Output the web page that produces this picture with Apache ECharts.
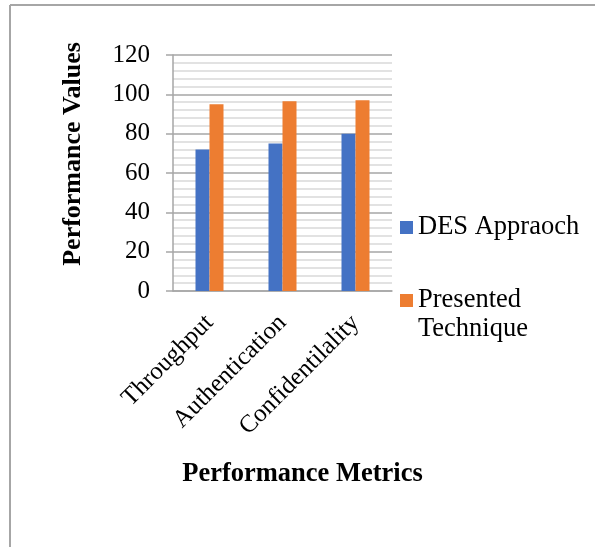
<!DOCTYPE html>
<html>
<head>
<meta charset="utf-8">
<script src="https://cdn.jsdelivr.net/npm/echarts@6/dist/echarts.min.js"></script>
<style>html,body{margin:0;padding:0;background:#fff;}#c{width:595px;height:547px;}</style>
</head>
<body>
<div id="c"></div>
<script>
var categories = ['Throughput', 'Authentication', 'Confidentilality'];
var desValues = [72, 75, 80];
var presentedValues = [95, 96.5, 97];
var seriesNames = ['DES Appraoch', 'Presented Technique'];
var yTicks = [0, 20, 40, 60, 80, 100, 120];

var FONT = '"Liberation Serif", "Times New Roman", serif';
var chart = echarts.init(document.getElementById('c'), null, {renderer: 'canvas'});
chart.setOption({
  animation: false,
  backgroundColor: '#fff',
  graphic: [
    {type: 'line', shape: {x1: 10, y1: 5, x2: 595, y2: 5}, style: {stroke: '#a6a6a6', lineWidth: 2}},
    {type: 'line', shape: {x1: 10, y1: 5, x2: 10, y2: 547}, style: {stroke: '#a6a6a6', lineWidth: 2}}
  ],
  grid: {left: 173, top: 55, width: 219, height: 236, containLabel: false},
  legend: [
    {
      data: [seriesNames[0]], orient: 'vertical', left: 400, top: 213, padding: 0,
      itemWidth: 13, itemHeight: 13, itemGap: 0, icon: 'rect',
      textStyle: {fontFamily: FONT, fontSize: 26.5, color: '#000', lineHeight: 29}
    },
    {
      data: [seriesNames[1]], orient: 'vertical', left: 400, top: 257, padding: 0,
      itemWidth: 13, itemHeight: 13, itemGap: 0, icon: 'rect',
      formatter: function (n) {
        return '\u00a0\n' + n.split(' ').join('\n');
      },
      textStyle: {fontFamily: FONT, fontSize: 26.5, color: '#000', lineHeight: 29}
    }
  ],
  xAxis: {
    type: 'category',
    data: categories,
    name: 'Performance Metrics',
    nameLocation: 'middle',
    nameGap: 170,
    nameTextStyle: {fontFamily: FONT, fontSize: 26.5, fontWeight: 'bold', color: '#000', padding: [0, 0, 0, 40]},
    axisLine: {lineStyle: {color: '#a6a6a6', width: 1.5}},
    axisTick: {show: false},
    axisLabel: {rotate: 45, fontFamily: FONT, fontSize: 25, color: '#000', margin: 28, interval: 0}
  },
  yAxis: {
    type: 'value',
    min: yTicks[0], max: yTicks[yTicks.length - 1], interval: 20,
    name: 'Performance Values',
    nameLocation: 'middle',
    nameGap: 87,
    nameTextStyle: {fontFamily: FONT, fontSize: 26, fontWeight: 'bold', color: '#000', padding: [0, 0, 0, 38]},
    axisLine: {show: true, lineStyle: {color: '#a6a6a6', width: 1.5}},
    axisTick: {show: true, length: 7, lineStyle: {color: '#a6a6a6', width: 1.5}},
    axisLabel: {fontFamily: FONT, fontSize: 25, color: '#000', margin: 23},
    splitLine: {lineStyle: {color: '#a6a6a6', width: 1.5}},
    minorTick: {show: false, splitNumber: 5},
    minorSplitLine: {show: true, lineStyle: {color: '#d9d9d9', width: 1.5}}
  },
  series: [
    {name: seriesNames[0], type: 'bar', data: desValues, barWidth: 14, barGap: '0%', itemStyle: {color: '#4472c4'}},
    {name: seriesNames[1], type: 'bar', data: presentedValues, barWidth: 14, barGap: '0%', itemStyle: {color: '#ed7d31'}}
  ]
});
</script>
</body>
</html>
